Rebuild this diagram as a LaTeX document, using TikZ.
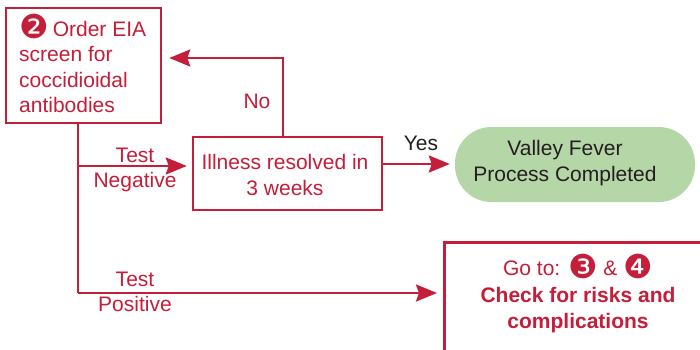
\documentclass[tikz,border=0pt]{standalone}
\usepackage{fontspec}
\setmainfont{Liberation Sans}
\newfontfamily\dingfont{DejaVu Sans}
\usetikzlibrary{arrows.meta}
\definecolor{vfred}{RGB}{196,30,58}
\definecolor{vfgreen}{RGB}{181,214,167}
\definecolor{vfdark}{RGB}{35,31,32}
\newcommand\cnum[1]{\raisebox{-2.5pt}{\smash{\dingfont\fontsize{33}{33}\selectfont #1}}}
\begin{document}
\begin{tikzpicture}[x=1pt,y=-1pt,
  box/.style={draw=vfred,line width=2.5pt,inner sep=0pt,fill=white},
  pill/.style={fill=vfgreen,draw=none,rounded corners=36.5pt,inner sep=0pt},
  txt/.style={inner sep=0pt,text=vfred,font=\fontsize{21}{25.5}\selectfont},
  conn/.style={draw=vfred,line width=2.5pt},
  arr/.style={conn,-{Stealth[length=21pt,width=17pt,inset=3pt]}}
]
\useasboundingbox (0,0) rectangle (700,349);
\clip (0,0) rectangle (700,349);
\fill[white] (0,0) rectangle (700,349);

% shapes
\node[box,minimum width=155pt,minimum height=115pt] (screen) at (83.5,65.5) {};
\node[box,minimum width=189pt,minimum height=73pt] (illness) at (287.5,173.5) {};
\node[pill,minimum width=240pt,minimum height=75pt] (done) at (575,164.5) {};
\node[box,minimum width=290pt,minimum height=140pt,anchor=north west] (risks) at (443,241) {};

% texts
\node[txt,align=left,anchor=west] (screentxt) at (19,67)
  {\cnum{❷}\hspace{4pt}Order EIA\\screen for\\coccidioidal\\antibodies};
\node[txt,align=center] (illtxt) at (285,175) {Illness resolved in\\3 weeks};
\node[txt,align=center,text=vfdark] (donetxt) at (565,163) {Valley Fever\\Process Completed};
\node[txt,align=center,font=\fontsize{21}{26.5}\selectfont] (riskstxt) at (578,297)
  {Go to: \cnum{❸} \& \cnum{❹}\\\textbf{Check for risks and}\\\textbf{complications}};

% connectors
\coordinate (split) at (78,166);
\coordinate (pos) at (78,293);
\coordinate (noturn) at (283,58);
\coordinate (yesy) at (0,164);
\draw[conn] (screen.south -| split) -- (pos);
\draw[arr,shorten >=5pt] (split) -- (split -| illness.west);
\draw[arr,shorten >=6pt] (pos) -- (pos -| risks.west);
\draw[arr,shorten >=7pt] (illness.north -| noturn) -- (noturn) -- (noturn -| screen.east);
\draw[arr,shorten >=5pt] (illness.east |- yesy) -- (yesy -| done.west);

% labels
\node[txt,align=center] (neglbl) at (135,170) {Test\\Negative};
\node[txt,align=center] (poslbl) at (135,292) {Test\\Positive};
\node[txt,anchor=base] (nolbl) at (257,108) {No};
\node[txt,anchor=base,text=vfdark] (yeslbl) at (421,150) {Yes};
\end{tikzpicture}
\end{document}
